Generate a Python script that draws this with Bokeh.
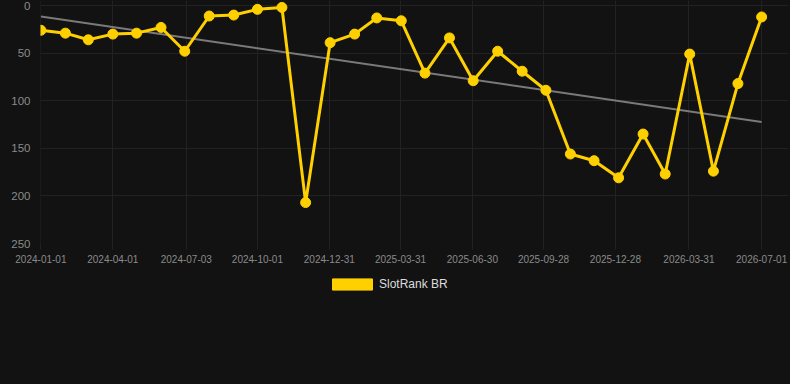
import numpy as np
import pandas as pd
from bokeh.plotting import figure
from bokeh.layouts import column
from bokeh.models import (Range1d, FixedTicker, DatetimeTickFormatter, Legend,
                          LegendItem, ColumnDataSource)
from bokeh.embed import file_html
from bokeh.resources import INLINE

# ---- data ----
dates = pd.date_range("2024-01-01", periods=31, freq="MS")
ranks = [26, 29, 36, 30, 29, 23, 48, 11, 10, 4, 2, 207, 39, 30, 13, 16,
         71, 34, 79, 48, 69, 89, 156, 163, 181, 135, 177, 51, 174, 82, 12]
tick_dates = ["2024-01-01", "2024-04-01", "2024-07-03", "2024-10-01",
              "2024-12-31", "2025-03-31", "2025-06-30", "2025-09-28",
              "2025-12-28", "2026-03-31", "2026-07-01"]
y_ticks = [0, 50, 100, 150, 200, 250]
series_name = "SlotRank BR"

# ---- styles ----
BG = "#121212"
YELLOW = "#FFD000"
GRID = "#222222"
TXT = "#8a8a8a"
FONT = "Liberation Sans"

to_ms = lambda d: pd.Timestamp(d).value / 1e6
x_ms = np.array([to_ms(d) for d in dates])

# linear trend
coef = np.polyfit(x_ms, np.array(ranks, dtype=float), 1)
trend_x = [x_ms[0], x_ms[-1]]
trend_y = [float(np.polyval(coef, v)) for v in trend_x]

start = pd.Timestamp("2024-01-01") - pd.Timedelta(hours=12)
end = pd.Timestamp("2026-08-04")

p = figure(width=790, height=270, x_axis_type="datetime",
           x_range=Range1d(start, end), y_range=Range1d(250, -5.3),
           output_backend="svg", toolbar_location=None,
           background_fill_color=BG, border_fill_color=BG,
           min_border_left=40, min_border_right=2, min_border_top=0,
           min_border_bottom=27, styles={"background-color": BG})
p.outline_line_color = None

src = ColumnDataSource(dict(x=list(dates), y=ranks))
p.line(x=trend_x, y=trend_y, line_color="#7a7a7a", line_width=2)
p.line("x", "y", source=src, line_color=YELLOW, line_width=3)
p.scatter("x", "y", source=src, size=10, fill_color=YELLOW, line_color=YELLOW)

# axes
p.xaxis.ticker = FixedTicker(ticks=[to_ms(d) for d in tick_dates])
fmt = "%Y-%m-%d"
p.xaxis.formatter = DatetimeTickFormatter(milliseconds=fmt, seconds=fmt,
    minsec=fmt, minutes=fmt, hourmin=fmt, hours=fmt, days=fmt, months=fmt,
    years=fmt)
p.yaxis.ticker = FixedTicker(ticks=y_ticks)
for ax in (p.xaxis[0], p.yaxis[0]):
    ax.axis_line_color = None
    ax.major_label_text_color = TXT
    ax.major_label_text_font = FONT
    ax.minor_tick_line_color = None
    ax.major_tick_in = 0
p.xaxis.major_label_text_font_size = "10px"
p.yaxis.major_label_text_font_size = "11.5px"
p.xaxis.major_tick_out = 6
p.xaxis.major_tick_line_color = GRID
p.xaxis.major_label_standoff = 5
p.yaxis.major_tick_out = 0
p.yaxis.major_tick_line_color = None
p.yaxis.major_label_standoff = 10

p.xgrid.grid_line_color = GRID
p.ygrid.grid_line_color = GRID

# legend strip below the chart
lg = figure(width=790, height=114, output_backend="svg", toolbar_location=None,
            x_axis_location=None, y_axis_location=None,
            background_fill_color=BG, border_fill_color=BG,
            min_border=0, x_range=Range1d(0, 1), y_range=Range1d(0, 1),
            styles={"background-color": BG})
lg.outline_line_color = None
lg.xgrid.visible = False
lg.ygrid.visible = False
nan = [float("nan")]
sw = lg.quad(left=nan, right=nan, top=nan, bottom=nan, fill_color=YELLOW,
             line_color=YELLOW)
legend = Legend(items=[LegendItem(label=series_name, renderers=[sw], index=0)],
                location=(287, 93), orientation="horizontal",
                glyph_width=50, glyph_height=14, label_height=14,
                label_standoff=2, padding=0, margin=0, spacing=0,
                label_text_font=FONT, label_text_font_size="12px",
                label_text_color="#dddddd", background_fill_alpha=0,
                border_line_alpha=0)
lg.add_layout(legend)

layout = column(p, lg, spacing=0, styles={"background-color": BG})
open("out.html", "w").write(file_html(layout, INLINE))
